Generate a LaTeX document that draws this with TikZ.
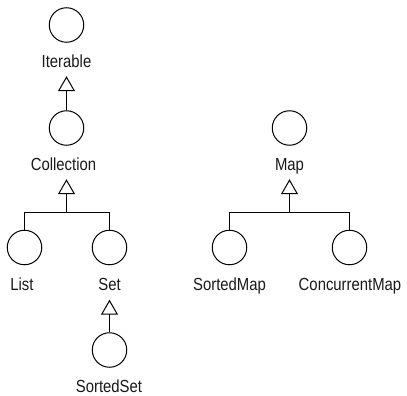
\documentclass[tikz,border=0pt]{standalone}
\usepackage{fontspec}
\setmainfont[FakeStretch=0.85]{Liberation Sans}
\usetikzlibrary{arrows.meta}
\begin{document}
\begin{tikzpicture}[x=1pt,y=-1pt,
  cls/.style={circle,draw,line width=1pt,minimum size=34.5pt,inner sep=0pt},
  lbl/.style={anchor=base,inner xsep=0pt,inner ysep=9pt,text depth=0pt,
    font=\fontsize{17.5}{20}\selectfont,text=black!90},
  link/.style={line width=1pt},
  inh/.style={line width=1pt,-{Triangle[open,length=15pt,width=17pt]}}]
\useasboundingbox (0,0) rectangle (407,396);
% circles
\node[cls] (iterc) at (66.5,25) {};
\node[cls] (collc) at (66.5,128) {};
\node[cls] (listc) at (24.5,247.5) {};
\node[cls] (setc) at (109.5,247.5) {};
\node[cls] (ssetc) at (109.5,350) {};
\node[cls] (mapc) at (289.5,128) {};
\node[cls] (smapc) at (229.5,247.5) {};
\node[cls] (cmapc) at (349.5,247.5) {};
% labels
\node[lbl] (iterl) at (66.5,67) {Iterable};
\node[lbl] (colll) at (63.5,170) {Collection};
\node[lbl] (listl) at (22,290.5) {List};
\node[lbl] (setl) at (109.5,290.5) {Set};
\node[lbl] (ssetl) at (109,392) {SortedSet};
\node[lbl] (mapl) at (289.5,170) {Map};
\node[lbl] (smapl) at (229.5,290.5) {SortedMap};
\node[lbl] (cmapl) at (350,290.5) {ConcurrentMap};
% junctions
\coordinate (cbar) at (66.5,212.5);
\coordinate (mbar) at (289.5,212.5);
% connectors
\draw[inh] (collc.north) -- (iterl.south -| collc.north);
\draw[link] (listc.north) |- (cbar) -| (setc.north);
\draw[inh] (cbar) -- (colll.south -| cbar);
\draw[inh] (ssetc.north) -- (setl.south -| ssetc.north);
\draw[link] (smapc.north) |- (mbar) -| (cmapc.north);
\draw[inh] (mbar) -- (mapl.south);
\end{tikzpicture}
\end{document}
